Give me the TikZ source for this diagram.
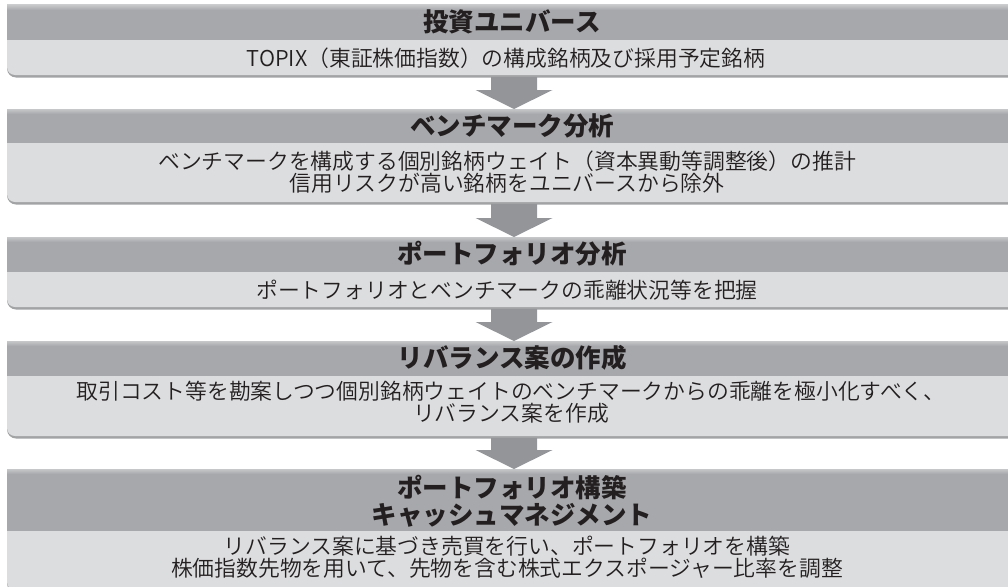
\documentclass[tikz,border=0pt]{standalone}
\usepackage{fontspec}
\setmainfont{Noto Sans CJK JP}
\IfFontExistsTF{Noto Sans CJK JP DemiLight}{%
  \newfontfamily\bodyfont{Noto Sans CJK JP DemiLight}}{%
  \IfFontExistsTF{Noto Sans CJK JP Light}{%
    \newfontfamily\bodyfont{Noto Sans CJK JP Light}}{%
    \newfontfamily\bodyfont{Noto Sans CJK JP}}}
\usetikzlibrary{calc}
\definecolor{hdr}{HTML}{A7A8AB}
\definecolor{hdrlight}{HTML}{C6C7C9}
\definecolor{bodyc}{HTML}{DCDDDF}
\definecolor{shadowc}{HTML}{A2A3A5}
\definecolor{arrowc}{HTML}{939598}
\definecolor{txt}{HTML}{231F20}
\newcommand\stagebox[3]{%
  \fill[shadowc,rounded corners=9] (7,#2-12) rectangle (1020,#3+0.5);
  \fill[bodyc,rounded corners=8] (7,#2-12) rectangle (1020,#3-2);
  \fill[hdr] (7,#1) rectangle (1020,#2);
  \shade[top color=hdrlight,bottom color=hdr] (7,#1) rectangle (1020,#1+5);
}
\newcommand\stagearrow[2]{%
  \fill[arrowc] ($(#1)+(-23,0)$) -- ($(#2)+(-23,-19)$) -- ($(#2)+(-38.5,-19)$)
    -- (#2) -- ($(#2)+(38.5,-19)$) -- ($(#2)+(23,-19)$) -- ($(#1)+(23,0)$) -- cycle;
}
\begin{document}
\begin{tikzpicture}[x=1pt,y=-1pt,
  titlestyle/.style={font=\bfseries\fontsize{25.5}{27}\selectfont, text=txt, inner sep=0pt, align=center},
  descstyle/.style={font=\bodyfont\fontsize{21.8}{22.5}\selectfont, text=txt, inner sep=0pt, align=center}]
\useasboundingbox (0,0) rectangle (1008,586);
\stagebox{5}{40}{77}
\stagebox{109}{143}{204}
\stagebox{237}{272}{309}
\stagebox{341}{376}{438}
\stagebox{469}{531}{592}
\coordinate (s1) at (514,77);
\coordinate (n2) at (514,109);
\coordinate (s2) at (514,204);
\coordinate (n3) at (514,237);
\coordinate (s3) at (514,309);
\coordinate (n4) at (514,341);
\coordinate (s4) at (514,438);
\coordinate (n5) at (514,469);
\stagearrow{s1}{n2}
\stagearrow{s2}{n3}
\stagearrow{s3}{n4}
\stagearrow{s4}{n5}
\node[titlestyle] (t1) at (512,22) {投資ユニバース};
\node[descstyle] (d1) at (506,58) {TOPIX（東証株価指数）の構成銘柄及び採用予定銘柄};
\node[titlestyle] (t2) at (512,126) {ベンチマーク分析};
\node[descstyle] (d2) at (507,172) {ベンチマークを構成する個別銘柄ウェイト（資本異動等調整後）の推計\\信用リスクが高い銘柄をユニバースから除外};
\node[titlestyle] (t3) at (512,254) {ポートフォリオ分析};
\node[descstyle] (d3) at (507,290) {ポートフォリオとベンチマークの乖離状況等を把握};
\node[titlestyle] (t4) at (512,358) {リバランス案の作成};
\node[descstyle] (d4) at (511,402) {取引コスト等を勘案しつつ個別銘柄ウェイトのベンチマークからの乖離を極小化すべく、\\リバランス案を作成};
\node[titlestyle] (t5) at (512,501) {ポートフォリオ構築\\キャッシュマネジメント};
\node[descstyle] (d5) at (507,557) {リバランス案に基づき売買を行い、ポートフォリオを構築\\株価指数先物を用いて、先物を含む株式エクスポージャー比率を調整};
\end{tikzpicture}
\end{document}
